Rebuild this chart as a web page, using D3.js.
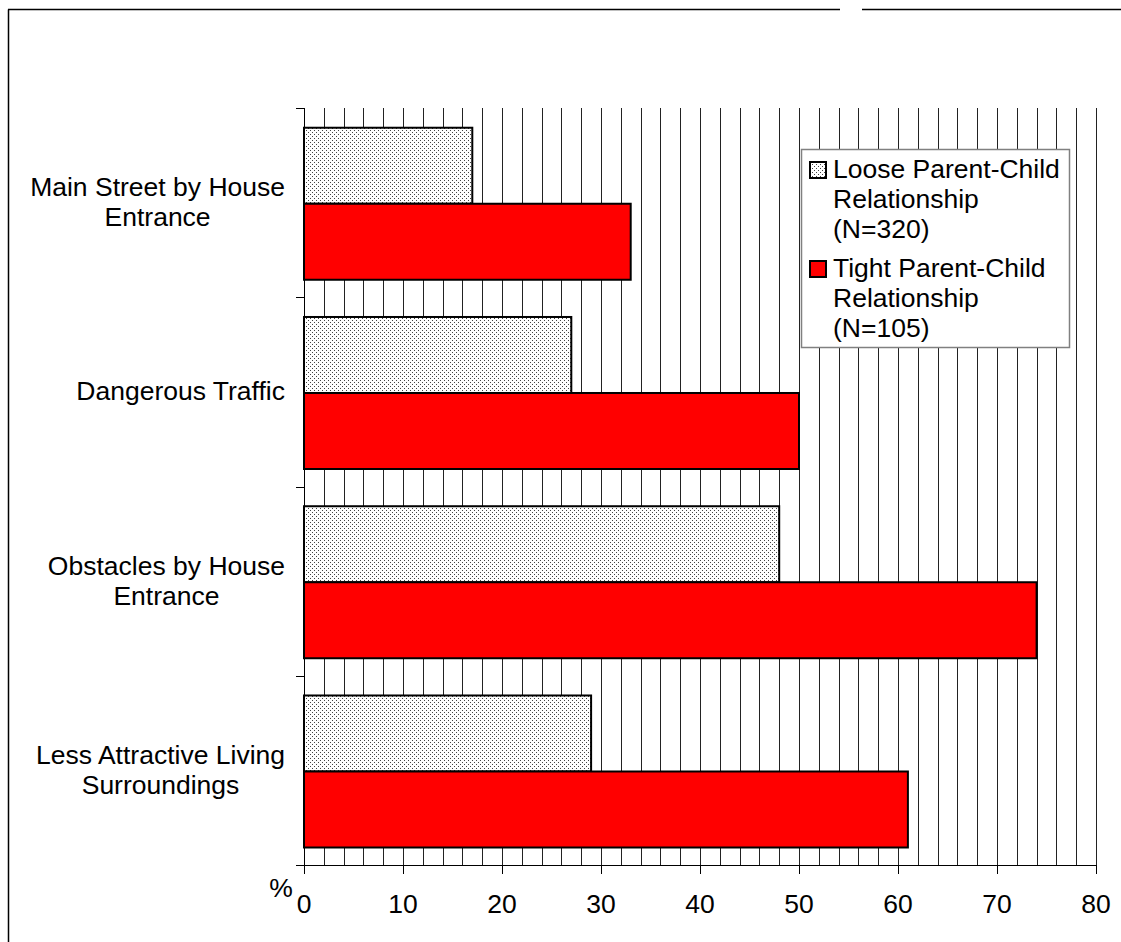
<!DOCTYPE html>
<html><head><meta charset="utf-8">
<script src="https://cdn.jsdelivr.net/npm/d3@7"></script>
<style>body{margin:0;background:#fff}svg{display:block}text{font-family:"Liberation Sans",Arial,sans-serif;fill:#000}</style>
</head><body>
<script>
const categories = [["Main Street by House","Entrance"],["Dangerous Traffic"],["Obstacles by House","Entrance"],["Less Attractive Living","Surroundings"]];
const seriesNames = ["Loose","Tight"];
const looseValues = [17, 27, 48, 29];
const tightValues = [33, 50, 74, 61];
const legendLabels = [["Loose Parent-Child","Relationship","(N=320)"],["Tight Parent-Child","Relationship","(N=105)"]];
const xTicks = [0,10,20,30,40,50,60,70,80];
const gridStep = 2;

(function(){
const W = 1121, H = 942;
const svg = d3.select("body").append("svg").attr("width", W).attr("height", H);
const defs = svg.append("defs");
const pat = defs.append("pattern").attr("id","dots").attr("patternUnits","userSpaceOnUse").attr("width",4).attr("height",4);
pat.append("rect").attr("width",4).attr("height",4).attr("fill","#fff");
pat.append("rect").attr("x",0).attr("y",0).attr("width",1).attr("height",1).attr("fill","#444");
pat.append("rect").attr("x",2).attr("y",2).attr("width",1).attr("height",1).attr("fill","#444");

// frame
svg.append("line").attr("x1",8.5).attr("y1",9.5).attr("x2",8.5).attr("y2",H).attr("stroke","#000").attr("stroke-width",1.5);
svg.append("line").attr("x1",8).attr("y1",9.5).attr("x2",840).attr("y2",9.5).attr("stroke","#000").attr("stroke-width",1.5);
svg.append("line").attr("x1",862).attr("y1",9.5).attr("x2",W).attr("y2",9.5).attr("stroke","#000").attr("stroke-width",1.5);

const pTop = 108, pBottom = 865, pLeft = 304, pRight = 1096;
const x = d3.scaleLinear().domain([0,80]).range([pLeft,pRight]);
const y = d3.scaleBand().domain(d3.range(categories.length)).range([pTop,pBottom]);
const ys = d3.scaleBand().domain(seriesNames).range([0,y.bandwidth()]).paddingOuter(0.245).paddingInner(0).align(0.53);

const g = svg.append("g");
g.selectAll("line.grid").data(d3.range(0, 80 + gridStep, gridStep)).join("line")
  .attr("x1",d=>Math.round(x(d))+0.5).attr("x2",d=>Math.round(x(d))+0.5)
  .attr("y1",pTop).attr("y2",pBottom).attr("stroke","#222").attr("stroke-width",1);

const data = [];
categories.forEach((c,i)=>{
  data.push({i, s:"Loose", v:looseValues[i]});
  data.push({i, s:"Tight", v:tightValues[i]});
});
g.selectAll("rect.bar").data(data).join("rect")
  .attr("x",x(0)).attr("y",d=>y(d.i)+ys(d.s))
  .attr("width",d=>x(d.v)-x(0)).attr("height",ys.bandwidth())
  .attr("fill",d=>d.s==="Loose"?"url(#dots)":"#ff0000")
  .attr("stroke","#000").attr("stroke-width",2);

g.append("line").attr("x1",pLeft+0.5).attr("x2",pLeft+0.5).attr("y1",pTop).attr("y2",pBottom).attr("stroke","#000");
g.selectAll("line.ytick").data(d3.range(categories.length+1)).join("line")
  .attr("x1",pLeft-8).attr("x2",pLeft).attr("y1",d=>Math.round(pTop + d*y.step())+0.5).attr("y2",d=>Math.round(pTop + d*y.step())+0.5)
  .attr("stroke","#000");

g.append("line").attr("x1",pLeft-8).attr("x2",pRight).attr("y1",pBottom+0.5).attr("y2",pBottom+0.5).attr("stroke","#000");
g.selectAll("line.xtick").data(xTicks).join("line")
  .attr("x1",d=>Math.round(x(d))+0.5).attr("x2",d=>Math.round(x(d))+0.5).attr("y1",pBottom).attr("y2",pBottom+9).attr("stroke","#000");
g.selectAll("text.xl").data(xTicks).join("text")
  .attr("x",d=>x(d)).attr("y",pBottom+48).attr("text-anchor","middle").attr("font-size",26.5).text(d=>d);
g.append("text").attr("x",281).attr("y",pBottom+32).attr("text-anchor","middle").attr("font-size",26.5).text("%");

const fs = 26.5, lh = 30, labelRight = 285;
categories.forEach((lines,i)=>{
  const t = g.append("text").attr("font-size",fs);
  const ws = lines.map(l=>{ const e = t.append("tspan").text(l); const w = e.node().getComputedTextLength(); e.remove(); return w; });
  const maxW = d3.max(ws);
  const cx = labelRight - maxW/2;
  const cy = y(i) + y.bandwidth()/2;
  lines.forEach((l,k)=>{
    t.append("tspan").attr("x",cx).attr("y", cy + (k - (lines.length-1)/2)*lh + 8.5).attr("text-anchor","middle").text(l);
  });
});

const lg = svg.append("g");
lg.append("rect").attr("x",801.5).attr("y",149.5).attr("width",268).attr("height",198).attr("fill","#fff").attr("stroke","#808080").attr("stroke-width",1.5);
legendLabels.forEach((lines,k)=>{
  const y0 = 161 + k*99;
  lg.append("rect").attr("x",810).attr("y",y0+1).attr("width",16).attr("height",16)
    .attr("fill",k===0?"url(#dots)":"#ff0000").attr("stroke","#000").attr("stroke-width",2);
  lines.forEach((l,j)=>{
    lg.append("text").attr("x",833).attr("y",y0+17+j*30).attr("font-size",26.5).text(l);
  });
});
})();
</script>
</body></html>
